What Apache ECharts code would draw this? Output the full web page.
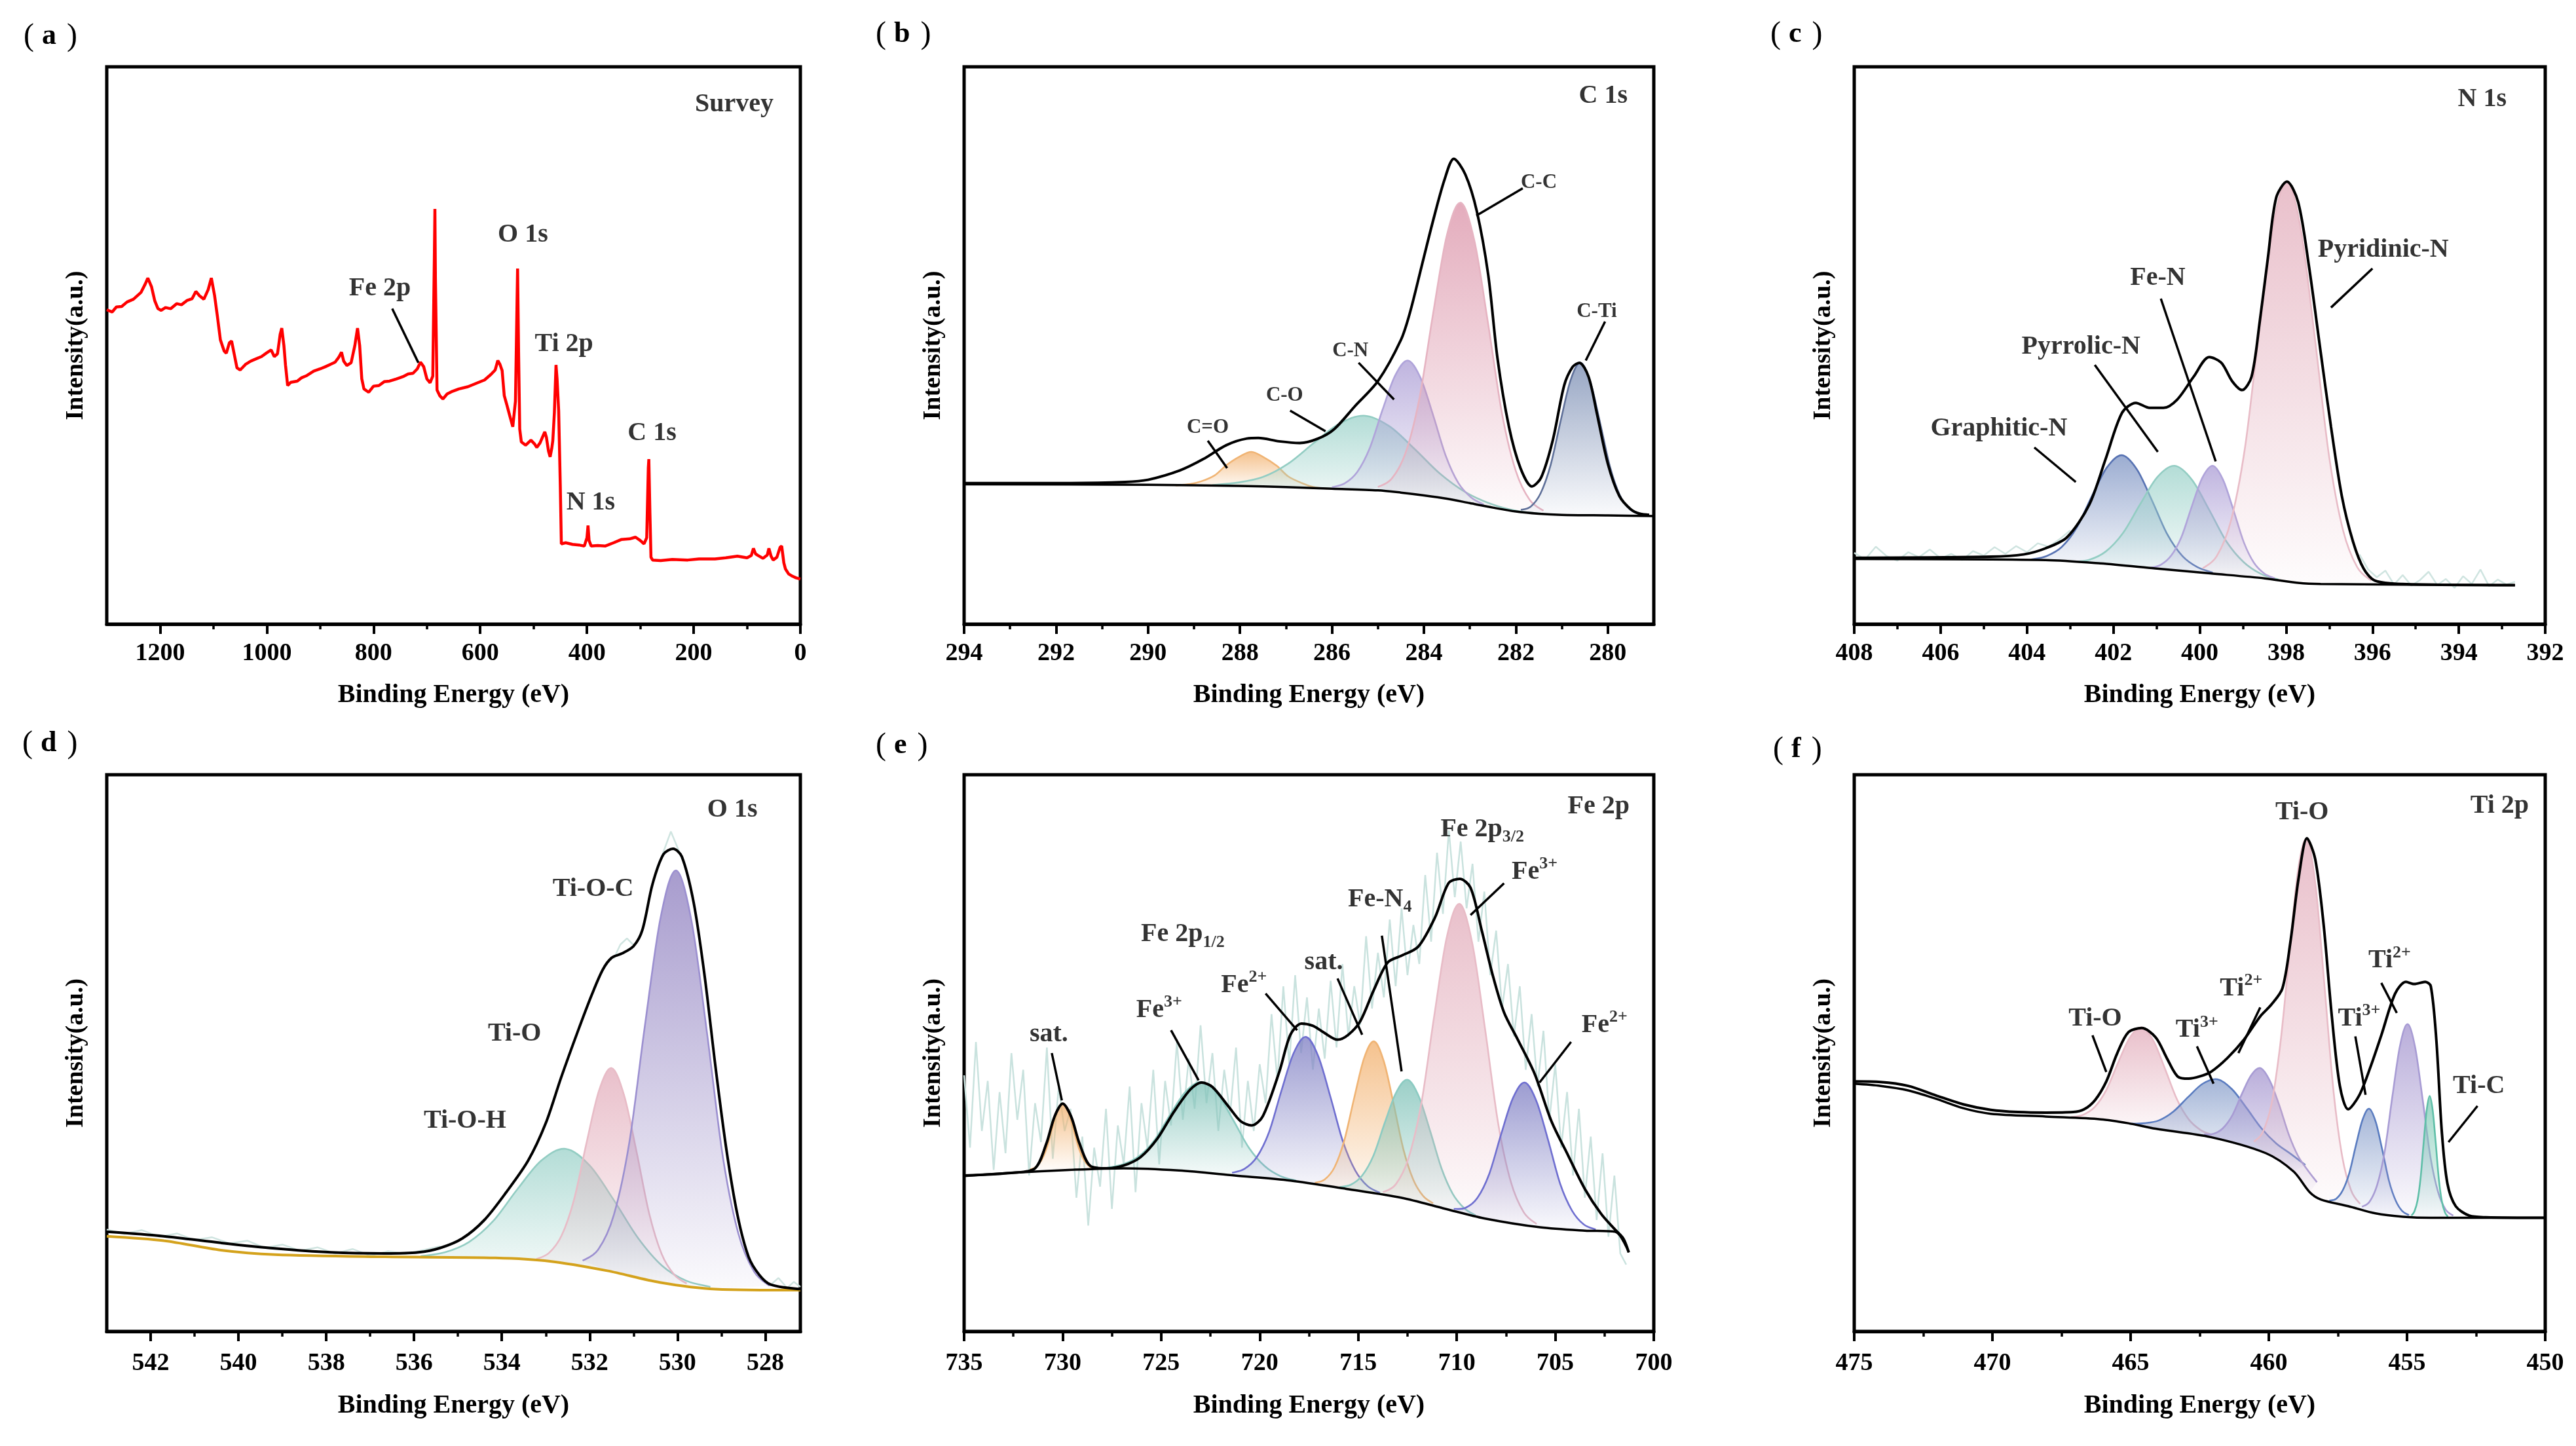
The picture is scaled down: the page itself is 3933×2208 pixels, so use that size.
<!DOCTYPE html>
<html><head><meta charset="utf-8">
<script src="https://cdn.jsdelivr.net/npm/echarts@6/dist/echarts.min.js"></script>
<style>html,body{margin:0;padding:0;background:#fff}#c{width:3933px;height:2208px}</style>
</head><body><div id="c"></div>
<script>
// ================= DATA =================
// (a) Survey
const survey = [[1300,56.4],[1290,56.0],[1282,56.9],[1272,57.0],[1262,57.8],[1250,58.3],[1236,59.5],[1228,61.0],[1223,62.1],[1216,60.5],[1210,58.0],[1204,56.6],[1198,56.3],[1190,56.8],[1180,56.6],[1169,57.5],[1160,57.3],[1149,58.1],[1140,58.4],[1133,59.7],[1126,58.9],[1118,58.3],[1110,60.0],[1104,62.1],[1098,59.0],[1093,55.5],[1087,51.0],[1080,49.0],[1076,48.6],[1070,50.5],[1066,50.8],[1061,48.4],[1056,46.0],[1050,45.6],[1040,46.6],[1030,47.2],[1020,47.6],[1010,48.0],[1000,48.7],[992,49.2],[986,48.0],[980,48.5],[975,52.0],[972,53.1],[968,50.0],[965,46.5],[961,42.8],[955,43.4],[943,43.6],[935,44.2],[925,44.6],[912,45.4],[900,45.8],[890,46.2],[881,46.6],[872,47.0],[865,47.9],[860,48.8],[856,47.2],[850,46.4],[842,46.9],[835,50.0],[830,53.1],[826,50.0],[822,44.0],[818,42.2],[809,41.6],[800,42.7],[790,42.8],[780,43.5],[770,43.6],[757,44.0],[745,44.4],[735,44.9],[726,45.0],[718,45.8],[712,47.0],[706,46.2],[700,44.0],[694,43.3],[689,44.5],[686,66.0],[685,74.5],[684,62.0],[681,42.0],[676,41.0],[670,40.4],[662,41.3],[654,41.7],[640,42.2],[623,42.6],[605,43.3],[592,43.8],[580,44.8],[572,45.6],[567,47.3],[563,46.6],[559,45.5],[555,41.0],[550,39.3],[545,37.5],[539,35.4],[534,40.0],[531,58.0],[530,63.8],[528,48.0],[526,35.0],[523,32.7],[515,32.1],[505,33.0],[498,32.3],[494,31.7],[488,32.5],[484,33.4],[479,34.5],[476,33.5],[472,31.0],[469,30.0],[466,31.5],[464,32.9],[461,38.0],[458,46.5],[456,44.0],[453,38.3],[450,25.0],[448,14.4],[440,14.6],[427,14.3],[415,14.2],[405,14.0],[400,15.5],[398,17.7],[396,15.0],[392,14.0],[380,14.1],[366,14.0],[350,14.6],[335,15.2],[320,15.3],[309,15.6],[300,15.0],[293,14.4],[288,15.5],[285,28.0],[284,29.6],[282,20.0],[280,12.0],[277,11.5],[262,11.4],[240,11.6],[211,11.5],[190,11.7],[160,11.7],[140,11.9],[118,12.2],[100,11.9],[92,12.3],[88,13.6],[84,12.6],[79,12.3],[70,11.8],[62,12.4],[59,13.6],[55,12.2],[51,11.5],[44,12.0],[38,13.8],[35,14.0],[31,11.0],[28,9.9],[22,9.0],[15,8.6],[8,8.3],[0,8.1]];

// (b) C 1s
const envB = [[294,25.3],[291.7,25.3],[290.5,25.5],[290.0,25.9],[289.3,27.6],[288.8,29.6],[288.3,32.1],[287.85,33.3],[287.6,33.4],[287.15,32.8],[286.7,32.5],[286.3,33.3],[285.95,35.0],[285.5,39.1],[285.0,43.6],[284.5,51.0],[284.3,56.0],[284.05,64.2],[283.8,72.4],[283.55,79.8],[283.35,83.5],[283.1,80.7],[282.85,74.1],[282.6,62.6],[282.4,47.7],[282.15,35.4],[281.9,28.0],[281.65,24.7],[281.45,26.3],[281.2,32.9],[280.95,42.8],[280.77,46.1],[280.62,46.9],[280.42,44.4],[280.24,37.9],[280.0,28.8],[279.75,23.0],[279.5,20.6],[279.3,19.8],[279.1,19.6]];
const baseB = [[294,25.1],[290,25.0],[288,24.8],[287,24.6],[286,24.3],[285,24.0],[284.5,23.6],[284,23.1],[283.5,22.5],[283,21.7],[282.5,20.9],[282,20.2],[281.5,19.8],[281,19.6],[280,19.5],[279,19.4]];
const bCeqO = [[289.4,24.9],[289.1,25.1],[288.85,25.6],[288.55,26.7],[288.3,28.5],[288.0,30.1],[287.75,30.9],[287.5,30.0],[287.2,28.4],[286.95,26.5],[286.65,25.3],[286.4,24.6],[286.1,24.3]];
const bCO = [[288.6,24.95],[288.05,25.4],[287.5,26.4],[286.95,28.8],[286.4,32.45],[285.85,35.9],[285.3,37.4],[284.75,35.5],[284.2,31.4],[283.65,27.0],[283.1,23.7],[282.55,21.6],[282.0,20.35],[281.4,19.8]];
const bCN = [[286.0,24.56],[285.725,25.25],[285.45,27.3],[285.175,31.65],[284.9,38.45],[284.625,44.6],[284.35,47.3],[284.075,44.2],[283.8,37.5],[283.525,30.2],[283.25,25.3],[282.975,22.75],[282.7,21.46]];
const bCC = [[285.0,24.6],[284.7,26.1],[284.4,30.7],[284.1,40.4],[283.8,55.7],[283.5,69.8],[283.2,75.6],[282.9,68.7],[282.6,53.7],[282.3,37.7],[282.0,27.45],[281.7,22.3],[281.4,20.35]];
const bCTi = [[281.89,20.5],[281.675,21.1],[281.46,23.5],[281.245,28.5],[281.03,36.3],[280.815,43.65],[280.6,46.9],[280.385,43.6],[280.17,36.2],[279.955,28.3],[279.74,23.15],[279.525,20.65],[279.31,19.7]];

// (c) N 1s
const envC = [[408,11.9],[404.85,12.1],[404.08,12.5],[403.57,13.6],[403.07,15.6],[402.56,21.4],[402.18,29.6],[401.8,37.9],[401.48,39.7],[401.16,38.8],[400.84,38.8],[400.52,40.3],[400.14,44.4],[399.78,47.9],[399.5,46.9],[399.25,43.6],[399.02,42.0],[398.8,44.4],[398.61,54.3],[398.42,65.8],[398.23,76.5],[397.98,79.4],[397.72,75.7],[397.47,64.2],[397.21,49.4],[396.96,35.4],[396.71,23.0],[396.45,14.8],[396.2,9.9],[395.94,7.8],[395.31,7.2],[392.7,7.0]];
const baseC = [[408,11.7],[403.57,11.5],[402.3,10.9],[401.03,10.0],[399.76,9.1],[398.49,8.2],[397.72,7.4],[397.2,7.2],[392.7,7.0]];
const cGraphitic = [[403.9,11.6],[403.55,12.2],[403.2,13.8],[402.85,17.3],[402.5,22.9],[402.15,28.1],[401.8,30.3],[401.45,27.7],[401.1,22.1],[400.75,16.1],[400.4,12.2],[400.05,10.2],[399.7,9.25]];
const cPyrrolic = [[402.98,11.2],[402.58,11.5],[402.18,13.0],[401.78,16.3],[401.38,21.5],[400.98,26.4],[400.58,28.4],[400.18,25.9],[399.78,20.5],[399.38,14.8],[398.98,11.1],[398.58,9.0],[398.18,8.0]];
const cFeN = [[401.14,10.1],[400.9,10.65],[400.66,12.3],[400.42,15.7],[400.18,21.2],[399.94,26.25],[399.7,28.4],[399.46,25.9],[399.22,20.5],[398.98,14.7],[398.74,10.95],[398.5,9.05],[398.26,8.2]];
const cPyridinic = [[399.93,10.0],[399.605,12.2],[399.28,18.45],[398.955,31.5],[398.63,52.1],[398.305,71.2],[397.98,79.4],[397.655,70.6],[397.33,51.05],[397.005,30.15],[396.68,16.8],[396.355,10.25],[396.03,7.8]];
const rawCleft = [[408,12.8],[407.75,11.6],[407.5,13.9],[407.25,12.2],[407.0,11.4],[406.75,12.9],[406.5,12.0],[406.25,13.4],[406.0,11.8],[405.75,12.6],[405.5,11.5],[405.25,13.1],[405.0,12.3],[404.75,13.8],[404.5,12.6],[404.25,14.0],[404.0,12.9],[403.75,14.5],[403.5,13.9],[403.25,15.2],[403.0,16.8]];
const rawCright = [[396.3,12.5],[396.1,9.8],[395.9,8.4],[395.7,9.6],[395.5,7.1],[395.3,8.8],[395.1,6.9],[394.9,7.9],[394.7,9.4],[394.5,7.0],[394.3,8.1],[394.1,6.5],[393.9,8.6],[393.7,7.2],[393.5,9.8],[393.3,6.8],[393.1,8.0],[392.9,7.1],[392.7,7.6]];

// (d) O 1s
const envD = [[543.0,17.9],[541.7,17.1],[540.4,15.9],[539.17,14.9],[537.9,14.2],[536.66,14.0],[535.9,14.2],[535.4,15.0],[534.9,16.7],[534.4,20.0],[533.9,25.0],[533.4,30.7],[533.0,37.4],[532.65,45.6],[532.27,53.9],[531.95,60.5],[531.7,65.0],[531.5,67.1],[531.26,67.9],[531.0,69.2],[530.8,72.1],[530.57,80.3],[530.32,85.7],[530.1,86.7],[529.9,85.3],[529.63,77.0],[529.38,63.8],[529.13,47.3],[528.88,32.4],[528.63,20.8],[528.38,13.4],[528.13,10.1],[527.87,8.4],[527.2,7.6]];
const baseD = [[543,17.1],[541.7,16.3],[540.4,14.6],[539.17,13.8],[536.66,13.4],[534.15,13.2],[532.9,12.6],[531.6,10.9],[530.4,8.8],[529.13,7.6],[527.2,7.4]];
const dTiOH = [[535.85,13.5],[535.3,14.2],[534.75,16.05],[534.2,19.8],[533.65,25.5],[533.1,30.7],[532.55,32.8],[532.0,29.8],[531.45,23.6],[530.9,16.8],[530.35,11.8],[529.8,9.1],[529.25,8.0]];
const dTiO = [[533.21,13.0],[532.925,14.1],[532.64,17.2],[532.355,23.7],[532.07,33.9],[531.785,43.3],[531.5,47.3],[531.215,42.4],[530.93,32.2],[530.645,21.2],[530.36,13.9],[530.075,10.2],[529.79,8.6]];
const dTiOC = [[532.16,12.7],[531.805,14.7],[531.45,20.9],[531.095,34.0],[530.74,55.0],[530.385,74.3],[530.03,82.8],[529.675,73.5],[529.32,53.2],[528.965,31.3],[528.61,17.5],[528.255,10.75],[527.9,8.2]];
const rawDleft = [[543,18.3],[542.6,17.5],[542.2,18.2],[541.8,17.0],[541.4,17.6],[541.0,16.4],[540.6,16.9],[540.2,15.8],[539.8,16.3],[539.4,15.0],[539.0,15.6],[538.6,14.5],[538.2,15.1],[537.8,14.0],[537.4,14.8],[537.0,13.6],[536.6,14.4],[536.2,13.9],[535.8,14.6],[535.4,15.3]];
const rawDpeak = [[530.5,82.0],[530.35,85.5],[530.15,89.8],[529.95,86.0],[529.8,83.0]];
const rawDshoulder = [[531.45,67.0],[531.3,69.5],[531.15,70.6],[531.0,69.4]];
const rawDright = [[527.9,8.2],[527.7,9.6],[527.5,7.8],[527.35,8.9],[527.2,8.0]];

// (e) Fe 2p
const envE = [[735,28.0],[732.52,28.5],[731.4,29.3],[730.83,33.7],[730.41,38.6],[730.0,40.9],[729.57,38.6],[729.14,33.7],[728.58,29.7],[727.73,29.3],[726.9,29.8],[726.05,31.3],[725.2,34.6],[724.36,39.4],[723.51,43.5],[722.95,44.7],[722.4,43.9],[721.54,40.2],[720.98,37.8],[720.41,37.0],[719.85,38.6],[719.0,46.7],[718.44,53.3],[717.88,55.3],[717.3,54.9],[716.75,53.7],[716.05,52.4],[715.5,53.3],[714.9,55.7],[714.2,61.4],[713.5,66.3],[712.8,67.5],[711.96,69.1],[711.1,74.4],[710.42,80.5],[709.85,81.3],[709.3,79.7],[708.73,72.0],[708.16,63.8],[707.6,57.3],[706.9,52.4],[706.05,46.3],[705.2,37.8],[704.36,31.7],[703.5,25.6],[702.67,21.1],[701.97,18.3],[701.55,16.7],[701.27,14.2]];
const baseE = [[735,27.9],[732.52,28.5],[729.7,29.0],[726.9,29.3],[724.1,28.9],[721.26,28.0],[718.44,27.1],[715.6,25.6],[712.8,24.0],[710.56,22.0],[708.6,20.3],[705.77,18.7],[703.5,18.1],[701.97,17.9],[701.27,14.2]];
const eSat1 = [[731.65,29.1],[731.375,29.5],[731.1,30.6],[730.825,32.8],[730.55,36.3],[730.275,39.5],[730.0,40.9],[729.725,39.5],[729.45,36.35],[729.175,32.9],[728.9,30.7],[728.625,29.6],[728.35,29.2]];
const eFe3a = [[727.75,29.4],[726.95,30.0],[726.15,31.4],[725.35,34.3],[724.55,38.9],[723.75,43.1],[722.95,44.8],[722.15,42.7],[721.35,38.0],[720.55,33.0],[719.75,29.7],[718.95,27.9],[718.15,27.1]];
const eFe2a = [[721.4,28.5],[720.775,29.2],[720.15,31.3],[719.525,35.8],[718.9,43.2],[718.275,50.0],[717.65,52.9],[717.025,49.4],[716.4,42.0],[715.775,34.1],[715.15,28.9],[714.525,26.1],[713.9,24.9]];
const eSat2 = [[717.2,26.7],[716.7,27.3],[716.2,29.5],[715.7,34.4],[715.2,42.0],[714.7,49.1],[714.2,52.1],[713.7,48.5],[713.2,40.8],[712.7,32.6],[712.2,27.2],[711.7,24.3],[711.2,23.0]];
const eFeN4 = [[715.95,25.9],[715.375,26.35],[714.8,28.0],[714.225,31.6],[713.65,37.5],[713.075,42.9],[712.5,45.2],[711.925,42.2],[711.35,36.0],[710.775,29.3],[710.2,24.7],[709.625,22.15],[709.05,20.84]];
const eFe3b = [[713.75,25.0],[713.1,26.4],[712.45,31.1],[711.8,40.9],[711.15,56.5],[710.5,70.9],[709.85,76.8],[709.2,69.5],[708.55,54.0],[707.9,37.4],[707.25,26.8],[706.6,21.4],[705.95,19.3]];
const eFe2b = [[710.15,22.0],[709.55,22.2],[708.95,24.0],[708.35,28.3],[707.75,35.4],[707.15,41.9],[706.55,44.7],[705.95,41.3],[705.35,34.2],[704.75,26.5],[704.15,21.7],[703.55,19.2],[702.95,18.3]];
const rawE = [[735.0,46],[734.7,33],[734.4,52],[734.1,36],[733.8,45],[733.5,29],[733.2,43],[732.9,32],[732.6,50],[732.3,38],[732.0,47],[731.7,28],[731.4,41],[731.1,34],[730.8,51],[730.5,31],[730.2,44],[729.9,36],[729.6,40],[729.3,24],[729.0,35],[728.7,19],[728.4,33],[728.1,26],[727.8,40],[727.5,22],[727.2,37],[726.9,30],[726.6,44],[726.3,25],[726.0,41],[725.7,33],[725.4,47],[725.1,30],[724.8,45],[724.5,37],[724.2,52],[723.9,38],[723.6,49],[723.3,40],[723.0,55],[722.7,41],[722.4,50],[722.1,36],[721.8,47],[721.5,39],[721.2,51],[720.9,33],[720.6,45],[720.3,36],[720.0,48],[719.7,41],[719.4,57],[719.1,45],[718.8,62],[718.5,48],[718.2,64],[717.9,50],[717.6,60],[717.3,47],[717.0,58],[716.7,49],[716.4,63],[716.1,51],[715.8,66],[715.5,53],[715.2,62],[714.9,55],[714.6,71],[714.3,58],[714.0,68],[713.7,60],[713.4,74],[713.1,62],[712.8,76],[712.5,64],[712.2,73],[711.9,66],[711.6,82],[711.3,70],[711.0,86],[710.7,75],[710.4,90],[710.1,78],[709.8,88],[709.5,76],[709.2,84],[708.9,70],[708.6,79],[708.3,64],[708.0,72],[707.7,58],[707.4,66],[707.1,53],[706.8,62],[706.5,47],[706.2,57],[705.9,44],[705.6,54],[705.3,38],[705.0,48],[704.7,33],[704.4,43],[704.1,28],[703.8,40],[703.5,24],[703.2,35],[702.9,20],[702.6,32],[702.3,17],[702.0,28],[701.7,14],[701.4,12]];

// (f) Ti 2p
const envF = [[475,44.9],[474.04,44.8],[473.05,44.1],[472.05,42.4],[471.06,40.8],[470.06,39.8],[469.07,39.4],[468.07,39.3],[467.08,39.4],[466.68,39.9],[466.28,41.6],[465.88,44.9],[465.49,49.9],[465.09,53.7],[464.6,54.5],[464.09,52.8],[463.69,49.1],[463.3,45.8],[462.9,45.4],[462.5,45.8],[462.1,46.6],[461.5,49.1],[460.9,52.4],[460.31,56.6],[459.91,58.7],[459.51,61.6],[459.22,69.9],[458.92,81.5],[458.62,88.6],[458.32,84.8],[458.02,73.2],[457.72,56.6],[457.43,44.1],[457.13,39.9],[456.73,42.4],[456.33,47.4],[455.93,53.2],[455.43,60.7],[455.04,62.8],[454.74,62.4],[454.34,62.8],[454.14,62.0],[453.94,52.4],[453.74,35.8],[453.54,26.6],[453.24,22.5],[452.75,20.8],[452.15,20.5],[450,20.4]];
const baseF = [[475,44.5],[474.04,44.1],[473.05,43.3],[472.05,41.8],[471.06,40.1],[470.06,39.1],[468.07,38.6],[466.08,38.1],[465.09,37.4],[464.09,36.4],[462.1,34.9],[460.1,32.0],[459.1,28.7],[458.52,25.0],[458.12,23.7],[457.13,22.5],[456.14,21.2],[455.14,20.6],[454.14,20.4],[450,20.4]];
const fTiOa = [[467.15,38.5],[466.725,38.9],[466.3,40.3],[465.875,43.4],[465.45,48.3],[465.025,52.8],[464.6,54.6],[464.175,52.2],[463.75,47.1],[463.325,41.7],[462.9,38.1],[462.475,36.2],[462.05,35.3]];
const fTi3a = [[465.04,37.3],[464.51,37.4],[463.98,37.9],[463.45,39.5],[462.92,42.1],[462.39,44.5],[461.86,45.3],[461.33,43.5],[460.8,40.1],[460.27,36.5],[459.74,33.8],[459.21,31.9],[458.68,29.9]];
const fTi2a = [[462.34,35.4],[462.0,35.5],[461.66,36.5],[461.32,38.8],[460.98,42.6],[460.64,46.0],[460.3,47.3],[459.96,45.0],[459.62,40.6],[459.28,35.4],[458.94,31.5],[458.6,29.0],[458.26,26.8]];
const fTiOb = [[460.54,34.1],[460.22,35.8],[459.9,40.9],[459.58,51.8],[459.26,67.5],[458.94,82.9],[458.62,88.4],[458.3,79.7],[457.98,61.7],[457.66,43.2],[457.34,31.3],[457.02,25.3],[456.7,22.9]];
const fTi3b = [[457.81,23.5],[457.57,23.8],[457.33,25.3],[457.09,28.4],[456.85,33.4],[456.61,38.0],[456.37,40.0],[456.13,37.6],[455.89,32.5],[455.65,27.0],[455.41,23.5],[455.17,21.6],[454.93,20.9]];
const fTi2b = [[456.63,22.4],[456.355,23.3],[456.08,26.3],[455.805,32.4],[455.53,42.2],[455.255,51.3],[454.98,55.2],[454.705,51.0],[454.43,41.5],[454.155,31.4],[453.88,25.1],[453.605,21.9],[453.33,20.8]];
const fTiC = [[454.84,20.8],[454.73,21.6],[454.62,23.5],[454.51,27.5],[454.4,33.8],[454.29,39.7],[454.18,42.3],[454.07,39.7],[453.96,33.8],[453.85,27.4],[453.74,23.4],[453.63,21.4],[453.52,20.6]];

// Axis ranges and tick labels
const ranges = [[0,1300],[279,294],[392,408],[527.2,543],[700,735],[450,475]];
const majorTicks = [[0,200,400,600,800,1000,1200],[280,282,284,286,288,290,292,294],[392,394,396,398,400,402,404,406,408],[528,530,532,534,536,538,540,542],[700,705,710,715,720,725,730,735],[450,455,460,465,470,475]];
const minorTicks = [[100,300,500,700,900,1100],[281,283,285,287,289,291,293],[393,395,397,399,401,403,405,407],[529,531,533,535,537,539,541],[702.5,707.5,712.5,717.5,722.5,727.5,732.5],[452.5,457.5,462.5,467.5,472.5]];
const panelLetters = ['a','b','c','d','e','f'];

// Annotations: [text, E, intensity]
const annA = [['Survey',124,93.2],['O 1s',520,69.8],['Fe 2p',788,60.2],['Ti 2p',443,50.2],['C 1s',278,34.2],['N 1s',393,21.8]];
const arrA = [[765,56.6,716,46.9]];
const annBtitle = [['C 1s',280.1,94.7]];
const annB = [['C-C',281.5,79.2],['C-Ti',280.24,56.0],['C-N',285.6,49.0],['C-O',287.03,41.0],['C=O',288.7,35.2]];
const arrB = [[281.85,78.2,282.86,73.3],[280.06,54.3,280.48,47.3],[285.42,46.9,284.65,40.3],[286.91,38.3,286.14,34.6],[288.7,32.9,288.28,28.0]];
const annC = [['N 1s',393.46,94.2],['Pyridinic-N',395.75,67.1],['Fe-N',400.97,62.1],['Pyrrolic-N',402.75,49.8],['Graphitic-N',404.65,35.0]];
const arrC = [[396.0,63.8,396.96,56.8],[400.9,58.4,399.63,29.2],[402.43,46.5,400.97,30.9],[403.83,31.7,402.87,25.5]];
const annD = [['O 1s',528.75,93.7],['Ti-O-C',531.92,79.5],['Ti-O',533.71,53.5],['Ti-O-H',534.84,37.8]];
const arrD = [];
const annE = [['Fe 2p',702.8,94.3],['Fe 2p_3/2',708.7,90.2],['Fe^3+',706.05,82.5],['Fe-N_4',713.9,77.6],['Fe 2p_1/2',723.9,71.3],['sat.',716.75,66.3],['Fe^2+',720.8,62.2],['Fe^3+',725.1,57.7],['sat.',730.7,53.3],['Fe^2+',702.5,55.0]];
const arrE = [[707.6,80.5,709.3,74.8],[713.8,71.1,712.8,46.7],[716.05,63.4,714.8,53.3],[719.7,60.7,718.1,54.1],[724.5,54.1,723.1,45.1],[730.55,50.0,730.04,41.5],[704.2,52.0,705.8,44.7]];
const annF = [['Ti 2p',451.65,94.4],['Ti-O',458.8,93.2],['Ti-O',466.28,56.2],['Ti^3+',462.6,54.1],['Ti^2+',461.0,61.6],['Ti^3+',456.73,56.2],['Ti^2+',455.63,66.6],['Ti-C',452.4,44.0]];
const arrF = [[466.38,53.2,465.88,46.6],[462.6,51.2,462.0,44.5],[460.31,58.2,461.1,50.0],[456.87,53.0,456.5,42.5],[455.93,62.6,455.37,57.2],[452.45,40.5,453.5,34.0]];

// ================= STYLE / LAYOUT =================
const FONT = "'Liberation Serif','Times New Roman',serif";
const gridRects = [
  {left:163, top:102, width:1059, height:851},
  {left:1472, top:102, width:1053, height:851},
  {left:2831, top:102, width:1055, height:851},
  {left:163, top:1183, width:1059, height:850},
  {left:1472, top:1183, width:1053, height:850},
  {left:2831, top:1183, width:1055, height:850}
];
const letterPos = [[36,56],[1337,53],[2703,53],[34,1136],[1337,1139],[2707,1145]];
const C = {
  orange:['#f2b16e','#f0b474'], teal:['#9ed3cb','#93cdc3'], purple:['#ad9fd6','#b0a4da'],
  pink:['#dc95aa','#e6b4c2'], slate:['#7a8db3','#5f7099'], gblue:['#7f95c4','#5873b3'],
  ppink:['#e3aebc','#e8bcc7'], violet:['#8f80c0','#9c90d0'], fblue:['#8080c4','#6f6fd0'],
  ftteal:['#7fc2b8','#8ccbc2'], tblue:['#8aa0cc','#5a7cc0'], tpurp:['#a697d0','#a89cd4'], tgreen:['#7cc9b5','#5fbfa8']
};

function hexA(hex, a){const n=parseInt(hex.slice(1),16);return 'rgba('+((n>>16)&255)+','+((n>>8)&255)+','+(n&255)+','+a+')';}
function crPath(P){
  let d='M'+P[0][0]+' '+P[0][1];
  for(let i=0;i<P.length-1;i++){
    const p0=P[i-1]||P[i],p1=P[i],p2=P[i+1],p3=P[i+2]||P[i+1];
    d+=' C'+(p1[0]+(p2[0]-p0[0])/6)+' '+(p1[1]+(p2[1]-p0[1])/6)+' '+(p2[0]-(p3[0]-p1[0])/6)+' '+(p2[1]-(p3[1]-p1[1])/6)+' '+p2[0]+' '+p2[1];
  }
  return d;
}
function compSeries(gi, pts, base, col){
  return {
    type:'custom', xAxisIndex:gi, yAxisIndex:gi, z:2, silent:true, clip:true,
    data:pts, encode:{x:0,y:1},
    renderItem:function(params, api){
      if(params.dataIndex!==0) return null;
      const top=pts.map(p=>api.coord(p));
      const e0=pts[0][0], e1=pts[pts.length-1][0];
      const lo=Math.min(e0,e1), hi=Math.max(e0,e1);
      const bot=base.filter(p=>p[0]>lo&&p[0]<hi).map(p=>api.coord(p)).reverse();
      let fillD=crPath(top);
      bot.forEach(b=>{fillD+=' L'+b[0]+' '+b[1];});
      fillD+=' Z';
      return {type:'group', children:[
        {type:'path', shape:{pathData:fillD}, style:{fill:new echarts.graphic.LinearGradient(0,0,0,1,[{offset:0,color:hexA(col[0],0.78)},{offset:1,color:hexA(col[0],0.04)}]), stroke:null}},
        {type:'path', shape:{pathData:crPath(top)}, style:{fill:null, stroke:col[1], lineWidth:2.6}}
      ]};
    }
  };
}
function lineSeries(gi, data, color, width, z, smooth){
  return {type:'line', xAxisIndex:gi, yAxisIndex:gi, data:data, symbol:'none', showSymbol:false, silent:true, z:z,
    smooth:smooth, lineStyle:{color:color, width:width}, clip:true};
}
function fmt(t){
  let m;
  if((m=t.match(/^(.*)\^(.*)$/))) return '{n|'+m[1]+'}{sup|'+m[2]+'}';
  if((m=t.match(/^(.*)_(.*)$/))) return '{n|'+m[1]+'}{sub|'+m[2]+'}';
  return '{n|'+t+'}';
}
function rich(size){
  const s2=Math.round(size*0.64);
  return {
    n:{fontSize:size, fontWeight:'bold', fontFamily:FONT, color:'#000', lineHeight:Math.round(size*1.25)},
    sup:{fontSize:s2, fontWeight:'bold', fontFamily:FONT, color:'#000', lineHeight:s2, verticalAlign:'top'},
    sub:{fontSize:s2, fontWeight:'bold', fontFamily:FONT, color:'#000', lineHeight:s2, verticalAlign:'bottom'}
  };
}
function annSeries(gi, anns, arrows, size){
  const s = {
    type:'scatter', xAxisIndex:gi, yAxisIndex:gi, z:6, silent:true, symbolSize:1, itemStyle:{color:'rgba(0,0,0,0)'},
    data:anns.map(a=>({value:[a[1],a[2]], label:{formatter:fmt(a[0])}})),
    label:{show:true, position:'inside', rich:rich(size)}
  };
  if(arrows.length){
    s.markLine={silent:true, animation:false, symbol:['none','arrow'], symbolSize:[0,20], label:{show:false},
      lineStyle:{color:'#000', width:3.5, type:'solid'}, emphasis:{disabled:true},
      data:arrows.map(a=>[{coord:[a[0],a[1]]},{coord:[a[2],a[3]]}])};
  }
  return s;
}

// ================= OPTION =================
const grid=[], xAxis=[], yAxis=[];
gridRects.forEach((r,i)=>{
  grid.push(Object.assign({show:true, borderColor:'#000', borderWidth:5, backgroundColor:'#fff', containLabel:false}, r));
  const row2 = i>=3;
  xAxis.push({type:'value', gridIndex:i, inverse:true, min:ranges[i][0], max:ranges[i][1], position:'bottom',
    axisLine:{show:true, onZero:false, lineStyle:{color:'#000', width:5}},
    axisTick:{show:true, customValues:majorTicks[i], length:15, lineStyle:{color:'#000', width:4}},
    axisLabel:{show:true, customValues:majorTicks[i], formatter:function(v){return String(v);}, margin:row2?30:26, color:'#000', fontSize:38, fontWeight:'bold', fontFamily:FONT},
    splitLine:{show:false},
    name:'Binding Energy (eV)', nameLocation:'middle', nameGap:row2?94:89,
    nameTextStyle:{color:'#000', fontSize:40, fontWeight:'bold', fontFamily:FONT}});
  yAxis.push({type:'value', gridIndex:i, min:0, max:100, axisLine:{show:false}, axisTick:{show:false}, axisLabel:{show:false}, splitLine:{show:false},
    name:'Intensity(a.u.)', nameLocation:'middle', nameGap:28, nameRotate:90,
    nameTextStyle:{color:'#000', fontSize:38, fontWeight:'bold', fontFamily:FONT}});
});
// overlay grids for minor ticks
gridRects.forEach((r,i)=>{
  grid.push(Object.assign({show:false, containLabel:false}, r));
  xAxis.push({type:'value', gridIndex:6+i, inverse:true, min:ranges[i][0], max:ranges[i][1], position:'bottom',
    axisLine:{show:false, onZero:false}, axisTick:{show:true, customValues:minorTicks[i], length:8, lineStyle:{color:'#000', width:3.5}},
    axisLabel:{show:false}, splitLine:{show:false}});
  yAxis.push({type:'value', gridIndex:6+i, min:0, max:100, show:false});
});

const series=[];
// (a)
series.push(lineSeries(0, survey, '#ff0000', 4.5, 3, false));
series.push(annSeries(0, annA, arrA, 40));
// (b)
[[bCeqO,C.orange],[bCO,C.teal],[bCN,C.purple],[bCC,C.pink],[bCTi,C.slate]].forEach(c=>series.push(compSeries(1,c[0],baseB,c[1])));
series.push(lineSeries(1, baseB, '#000', 3.5, 3, 0.3));
series.push(lineSeries(1, envB, '#000', 4, 4, 0.3));
series.push(annSeries(1, annBtitle, [], 40));
series.push(annSeries(1, annB, arrB, 31));
// (c)
series.push(lineSeries(2, rawCleft, '#cfe4e0', 2.5, 1, false));
series.push(lineSeries(2, rawCright, '#cfe4e0', 2.5, 1, false));
[[cGraphitic,C.gblue],[cPyrrolic,C.teal],[cFeN,C.purple],[cPyridinic,C.ppink]].forEach(c=>series.push(compSeries(2,c[0],baseC,c[1])));
series.push(lineSeries(2, baseC, '#000', 3.5, 3, 0.3));
series.push(lineSeries(2, envC, '#000', 4, 4, 0.3));
series.push(annSeries(2, annC, arrC, 40));
// (d)
[rawDleft, rawDpeak, rawDshoulder, rawDright].forEach(r=>series.push(lineSeries(3, r, '#cfe4e0', 2.5, 1, false)));
[[dTiOH,C.teal],[dTiO,C.ppink],[dTiOC,C.violet]].forEach(c=>series.push(compSeries(3,c[0],baseD,c[1])));
series.push(lineSeries(3, baseD, '#d4a21c', 4, 3, 0.3));
series.push(lineSeries(3, envD, '#000', 4, 4, 0.3));
series.push(annSeries(3, annD, arrD, 40));
// (e)
series.push(lineSeries(4, rawE, '#c9e2de', 2.5, 1, false));
[[eSat1,C.orange],[eFe3a,C.ftteal],[eFe2a,C.fblue],[eSat2,C.orange],[eFeN4,C.ftteal],[eFe3b,C.ppink],[eFe2b,C.fblue]].forEach(c=>series.push(compSeries(4,c[0],baseE,c[1])));
series.push(lineSeries(4, baseE, '#000', 3.5, 3, 0.3));
series.push(lineSeries(4, envE, '#000', 4, 4, 0.3));
series.push(annSeries(4, annE, arrE, 40));
// (f)
[[fTiOa,C.ppink],[fTi3a,C.tblue],[fTi2a,C.tpurp],[fTiOb,C.ppink],[fTi3b,C.tblue],[fTi2b,C.tpurp],[fTiC,C.tgreen]].forEach(c=>series.push(compSeries(5,c[0],baseF,c[1])));
series.push(lineSeries(5, baseF, '#000', 3.5, 3, 0.3));
series.push(lineSeries(5, envF, '#000', 4, 4, 0.3));
series.push(annSeries(5, annF, arrF, 40));

const graphic = panelLetters.map((t,i)=>({type:'text', x:letterPos[i][0], y:letterPos[i][1], silent:true,
  style:{text:'{p|(}{l|'+t+'}{p|)}', verticalAlign:'middle', align:'left',
    rich:{p:{fontSize:48, fontFamily:FONT, fill:'#000'}, l:{fontSize:44, fontWeight:'bold', fontFamily:FONT, fill:'#000', padding:[0,16,0,12]}}}}));

const chart = echarts.init(document.getElementById('c'), null, {renderer:'canvas', width:3933, height:2208});
chart.setOption({animation:false, backgroundColor:'#fff', grid:grid, xAxis:xAxis, yAxis:yAxis, series:series, graphic:graphic});
</script>
</body></html>
